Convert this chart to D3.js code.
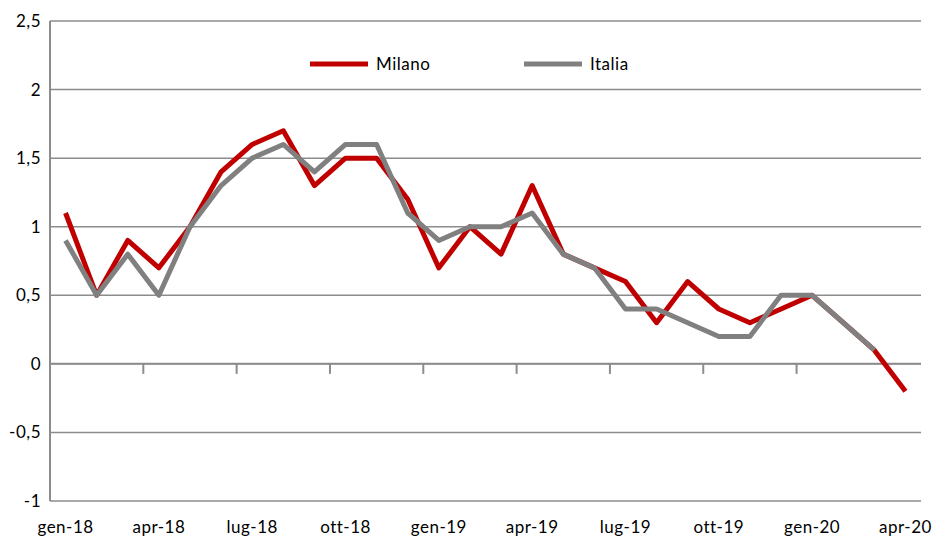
<!DOCTYPE html>
<html>
<head>
<meta charset="utf-8">
<script src="https://cdn.jsdelivr.net/npm/d3@7"></script>
<style>
  body { margin: 0; background: #fff; }
  svg text { font-family: Lato, "Open Sans", sans-serif; fill: #000; letter-spacing: 0.5px; }
</style>
</head>
<body>
<svg id="svg"></svg>
<script>
var months = ["gen-18","feb-18","mar-18","apr-18","mag-18","giu-18","lug-18","ago-18","set-18","ott-18","nov-18","dic-18",
              "gen-19","feb-19","mar-19","apr-19","mag-19","giu-19","lug-19","ago-19","set-19","ott-19","nov-19","dic-19",
              "gen-20","feb-20","mar-20","apr-20"];
var milano = [1.1, 0.5, 0.9, 0.7, 1.0, 1.4, 1.6, 1.7, 1.3, 1.5, 1.5, 1.2,
              0.7, 1.0, 0.8, 1.3, 0.8, 0.7, 0.6, 0.3, 0.6, 0.4, 0.3, 0.4,
              0.5, 0.3, 0.1, -0.2];
var italia = [0.9, 0.5, 0.8, 0.5, 1.0, 1.3, 1.5, 1.6, 1.4, 1.6, 1.6, 1.1,
              0.9, 1.0, 1.0, 1.1, 0.8, 0.7, 0.4, 0.4, 0.3, 0.2, 0.2, 0.5,
              0.5, 0.3, 0.1, null];
var yTicks = [-1, -0.5, 0, 0.5, 1, 1.5, 2, 2.5];
var xLabelEvery = 3;

var width = 935, height = 538;
// plot area (avoid the name "top", it is window.top)
var pLeft = 50, pRight = 921, pTop = 21, pBottom = 501;

var svg = d3.select("#svg").attr("width", width).attr("height", height);

var x = d3.scaleBand().domain(months).range([pLeft, pRight]).padding(0);
var y = d3.scaleLinear().domain([-1, 2.5]).range([pBottom, pTop]);

var fmt = function(v) { return String(v).replace(".", ","); };

// gridlines
svg.append("g").selectAll("line")
    .data(yTicks)
    .enter().append("line")
    .attr("x1", pLeft).attr("x2", pRight)
    .attr("y1", function(d) { return y(d); })
    .attr("y2", function(d) { return y(d); })
    .attr("stroke", "#8c8c8c")
    .attr("stroke-width", 1.5);

// y labels
svg.append("g").selectAll("text")
    .data(yTicks)
    .enter().append("text")
    .attr("x", 41)
    .attr("y", function(d) { return y(d) + 6; })
    .attr("text-anchor", "end")
    .attr("font-size", 17)
    .text(fmt);

// left axis
svg.append("line")
    .attr("x1", pLeft).attr("x2", pLeft)
    .attr("y1", pTop).attr("y2", pBottom)
    .attr("stroke", "#8c8c8c").attr("stroke-width", 2);

// zero axis with ticks
svg.append("line")
    .attr("x1", pLeft).attr("x2", pRight)
    .attr("y1", y(0)).attr("y2", y(0))
    .attr("stroke", "#8c8c8c").attr("stroke-width", 2);

var tickMonths = months.filter(function(m, i) { return i % xLabelEvery === 0 && i > 0 && i < months.length - 1; });
svg.append("g").selectAll("line")
    .data(tickMonths)
    .enter().append("line")
    .attr("x1", function(d) { return x(d); })
    .attr("x2", function(d) { return x(d); })
    .attr("y1", y(0)).attr("y2", y(0) + 10)
    .attr("stroke", "#8c8c8c").attr("stroke-width", 2);

// x labels
svg.append("g").selectAll("text")
    .data(months.filter(function(m, i) { return i % xLabelEvery === 0; }))
    .enter().append("text")
    .attr("x", function(d) { return x(d) + x.bandwidth() / 2; })
    .attr("y", 533)
    .attr("text-anchor", "middle")
    .attr("font-size", 17)
    .text(function(d) { return d; });

// lines
var line = d3.line()
    .defined(function(d) { return d.v !== null; })
    .x(function(d) { return x(d.m) + x.bandwidth() / 2; })
    .y(function(d) { return y(d.v); });

function series(vals) {
    return months.map(function(m, i) { return {m: m, v: vals[i]}; });
}

svg.append("path")
    .datum(series(milano))
    .attr("d", line)
    .attr("fill", "none")
    .attr("stroke", "#c00000")
    .attr("stroke-width", 5)
    .attr("stroke-linejoin", "round");

svg.append("path")
    .datum(series(italia))
    .attr("d", line)
    .attr("fill", "none")
    .attr("stroke", "#808080")
    .attr("stroke-width", 5)
    .attr("stroke-linejoin", "round");

// legend
var legend = [
    {name: "Milano", color: "#c00000", x: 310},
    {name: "Italia", color: "#808080", x: 524}
];
var lg = svg.append("g").selectAll("g")
    .data(legend)
    .enter().append("g");
lg.append("line")
    .attr("x1", function(d) { return d.x; })
    .attr("x2", function(d) { return d.x + 58; })
    .attr("y1", 64).attr("y2", 64)
    .attr("stroke", function(d) { return d.color; })
    .attr("stroke-width", 5);
lg.append("text")
    .attr("x", function(d) { return d.x + 66; })
    .attr("y", 70)
    .attr("font-size", 17)
    .text(function(d) { return d.name; });
</script>
</body>
</html>
